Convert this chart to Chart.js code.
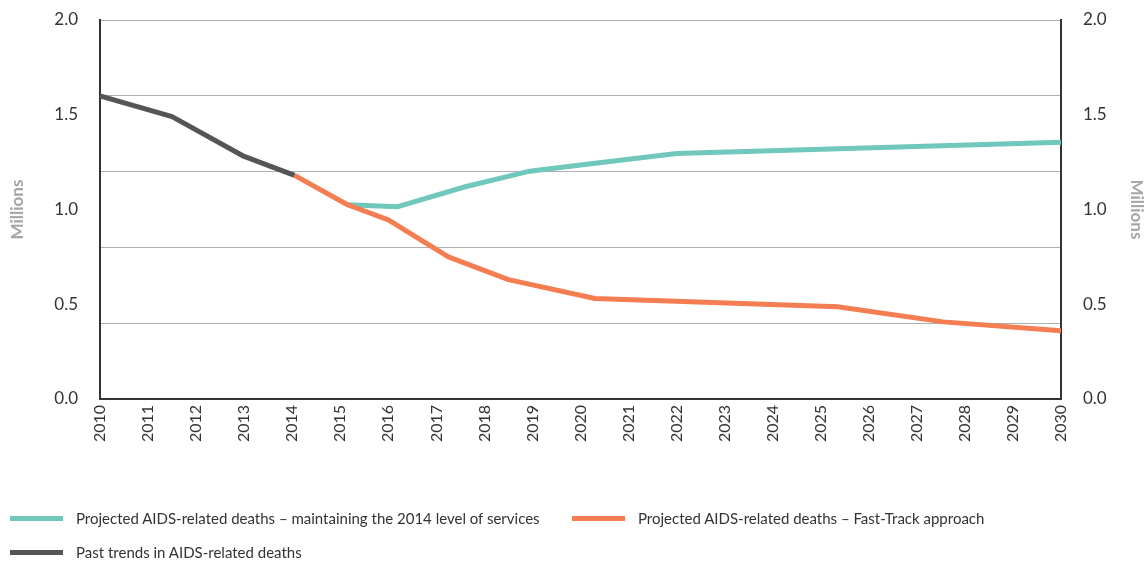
<!DOCTYPE html>
<html>
<head>
<meta charset="utf-8">
<script src="https://cdn.jsdelivr.net/npm/chart.js@4.4.1/dist/chart.umd.min.js"></script>
<style>
  html, body { margin: 0; padding: 0; background: #fff; }
  #wrap { position: relative; width: 1147px; height: 561px; }
  #legend {
    position: absolute; left: 10px; top: 501px; width: 1137px;
    display: flex; flex-wrap: wrap;
    font-family: Lato, "Open Sans", sans-serif; font-size: 15px; color: #333;
  }
  .legend-item { width: 562px; height: 34px; display: flex; align-items: center; }
  .legend-swatch { width: 53px; height: 5px; margin-right: 13px; }
</style>
</head>
<body>
<div id="wrap">
  <canvas id="deathsChart" width="1147" height="561"></canvas>
  <div id="legend"></div>
</div>
<script>
// Data (millions of deaths)
const maintainYears = [2015.15, 2016.2, 2017.6, 2018.9, 2020, 2022, 2030];
const maintainDeaths = [1.025, 1.015, 1.12, 1.2, 1.235, 1.295, 1.355];

const fastTrackYears = [2014.05, 2015.15, 2016, 2017.25, 2018.5, 2020.3, 2025.35, 2027.55, 2030];
const fastTrackDeaths = [1.18, 1.025, 0.945, 0.75, 0.63, 0.53, 0.487, 0.407, 0.36];

const pastYears = [2010, 2011.5, 2013, 2014.05];
const pastDeaths = [1.6, 1.49, 1.28, 1.18];

const seriesLabels = [
  'Projected AIDS-related deaths – maintaining the 2014 level of services',
  'Projected AIDS-related deaths – Fast-Track approach',
  'Past trends in AIDS-related deaths'
];
const seriesColors = ['#70c7bb', '#f47d51', '#555555'];

const yearTicks = [2010, 2030];
const valueTicks = [0, 2];

function toPoints(xs, ys) {
  return xs.map((x, i) => ({ x: x, y: ys[i] }));
}

const fontFamily = 'Lato, "Open Sans", sans-serif';

function lineDataset(i, xs, ys, order) {
  return {
    label: seriesLabels[i],
    data: toPoints(xs, ys),
    borderColor: seriesColors[i],
    backgroundColor: seriesColors[i],
    borderWidth: 5,
    pointRadius: 0,
    tension: 0,
    borderJoinStyle: 'round',
    order: order
  };
}

// value axis: labels every 0.5, invisible tick marks push the labels off the axis line
function valueAxis(position, titlePad) {
  return {
    position: position,
    min: valueTicks[0],
    max: valueTicks[1],
    grid: { display: true, drawOnChartArea: false, color: 'rgba(0,0,0,0)', tickLength: 19 },
    border: { display: true, color: '#333', width: 2 },
    ticks: {
      stepSize: 0.5,
      padding: 3,
      color: '#333',
      font: { family: fontFamily, size: 17 },
      callback: (v) => v.toFixed(1)
    },
    title: {
      display: true,
      text: 'Millions',
      color: '#a6a6a6',
      padding: { top: titlePad, bottom: 0 },
      font: { family: fontFamily, size: 17, weight: 'bold' }
    }
  };
}

const ctx = document.getElementById('deathsChart').getContext('2d');

const yLeft = valueAxis('left', 7);
yLeft.afterFit = (scale) => { scale.width = 100; };
const yRight = valueAxis('right', 0);
yRight.afterFit = (scale) => { scale.width = 86; };

const deathsChart = new Chart(ctx, {
  type: 'line',
  data: {
    datasets: [
      lineDataset(0, maintainYears, maintainDeaths, 1),
      lineDataset(1, fastTrackYears, fastTrackDeaths, 0),
      lineDataset(2, pastYears, pastDeaths, 2)
    ]
  },
  options: {
    responsive: false,
    animation: false,
    layout: { padding: { top: 20, left: 0, right: 0, bottom: 0 } },
    plugins: {
      legend: { display: false },
      tooltip: { enabled: false }
    },
    scales: {
      x: {
        type: 'linear',
        min: yearTicks[0],
        max: yearTicks[1],
        grid: { display: false, drawTicks: false },
        border: { display: true, color: '#333', width: 2 },
        ticks: {
          stepSize: 1,
          autoSkip: false,
          minRotation: 90,
          maxRotation: 90,
          padding: 6,
          color: '#333',
          font: { family: fontFamily, size: 16 },
          callback: (v) => String(v)
        },
        afterFit: (scale) => { scale.height = 162; }
      },
      y: yLeft,
      yGrid: {
        position: 'left',
        min: valueTicks[0],
        max: valueTicks[1],
        grid: { color: '#b0b0b0', lineWidth: 1, drawTicks: false },
        border: { display: false },
        ticks: { display: false, stepSize: 0.4, padding: 0 },
        afterFit: (scale) => { scale.width = 0; }
      },
      y2: yRight
    }
  }
});

// HTML legend built from the datasets
const legendEl = document.getElementById('legend');
deathsChart.data.datasets.forEach((ds) => {
  const item = document.createElement('div');
  item.className = 'legend-item';
  const swatch = document.createElement('span');
  swatch.className = 'legend-swatch';
  swatch.style.background = ds.borderColor;
  const text = document.createElement('span');
  text.textContent = ds.label;
  item.appendChild(swatch);
  item.appendChild(text);
  legendEl.appendChild(item);
});
</script>
</body>
</html>
